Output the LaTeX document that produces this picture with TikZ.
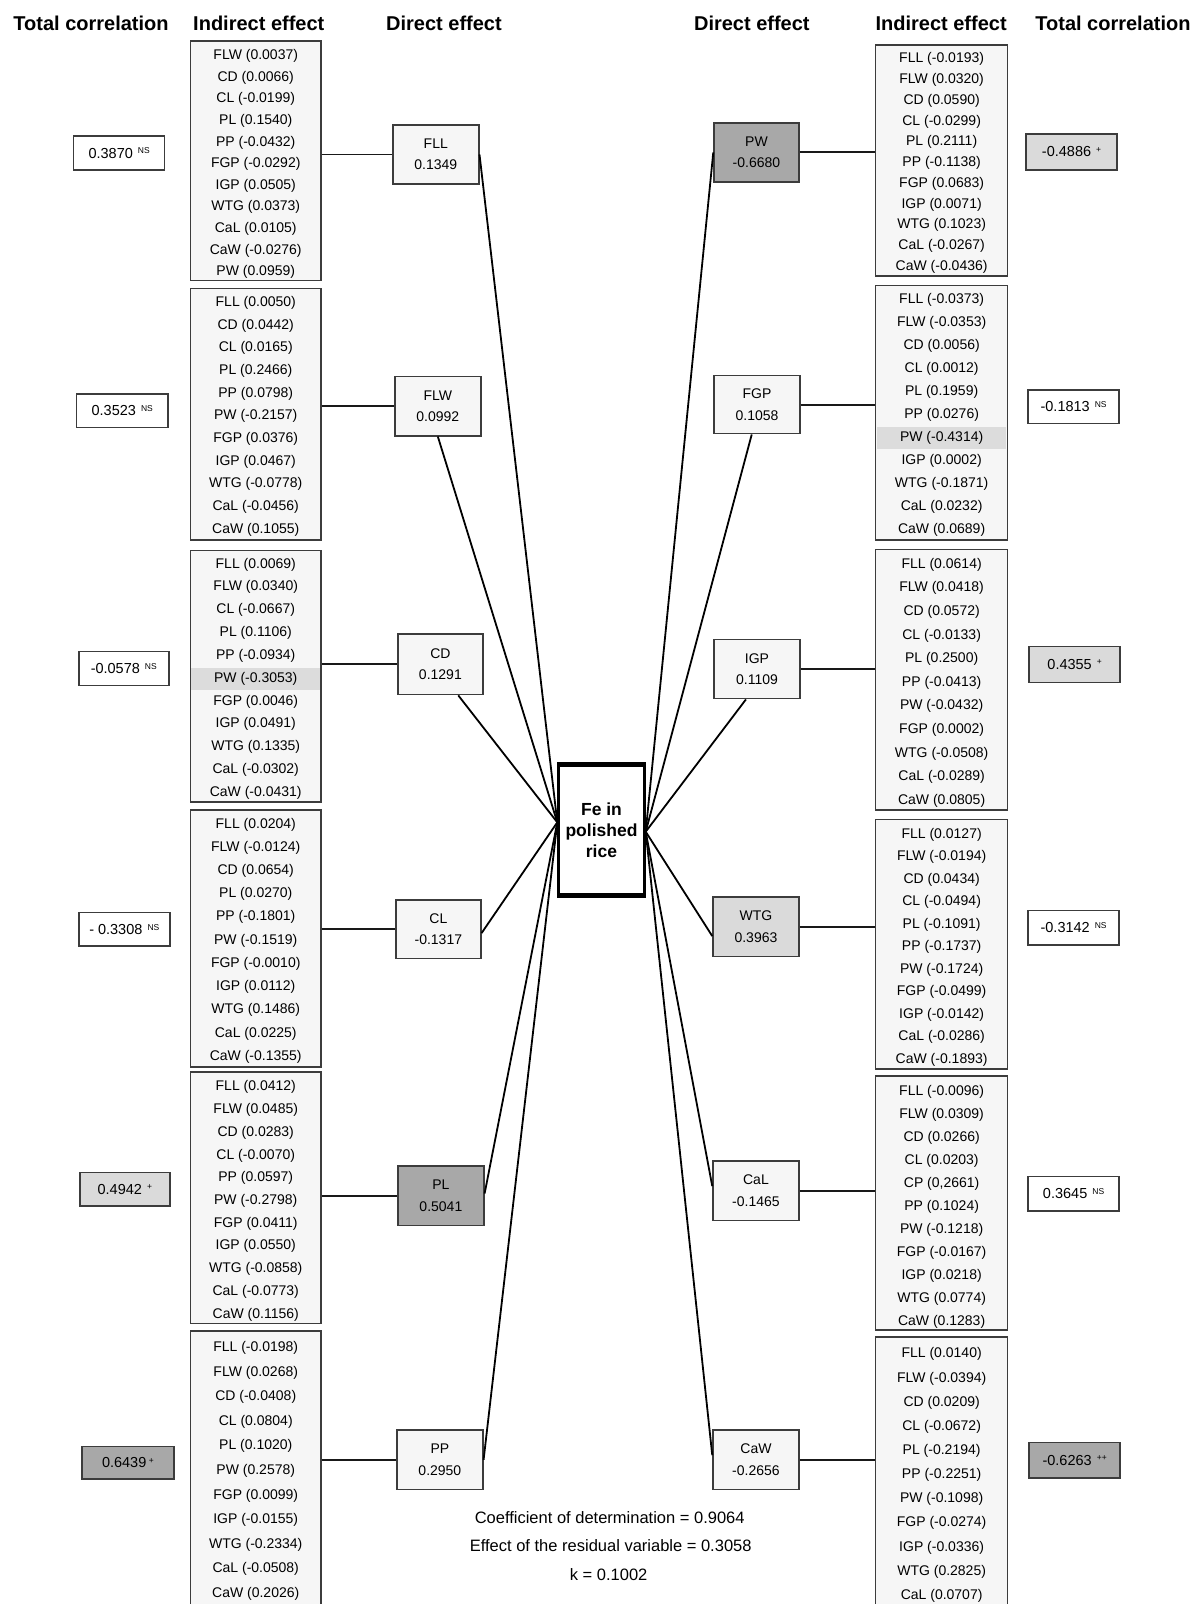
\documentclass[tikz,border=0pt]{standalone}
\usepackage{fontspec}
\setmainfont{Liberation Sans}
\usetikzlibrary{calc}
\definecolor{bord}{HTML}{3C3C3C}
\definecolor{boxfill}{HTML}{F6F6F6}
\definecolor{lightg}{HTML}{DADADA}
\definecolor{darkg}{HTML}{A8A8A8}
\definecolor{hlg}{HTML}{DCDCDC}
\newcommand\supm[1]{\hspace{0.35em}\raisebox{4.5pt}{\fontsize{8.5}{9}\selectfont #1}}
\newcommand\bx[7]{%
 \pgfmathsetmacro\bw{(#5-#3)*1.0231}%
 \pgfmathsetmacro\bh{(#6-#4)*1.0231}%
 \node[#1, minimum width=\bw pt, minimum height=\bh pt] (#2) at ({(#3+#5)/2},{(#4+#6)/2}) {#7};%
}
\newcommand\ib[9]{%
 \bx{box}{#1}{#2}{#3}{#4}{#5}{}%
 \pgfmathsetmacro\hw{(#4-#2)*1.0231-2.4}%
 \foreach \t [count=\i from 0] in {#9}{%
   \ifnum\i=#8\relax\def\rowst{hlrow}\else\def\rowst{}\fi
   \node[itext,\rowst] (#1-\i) at ({(#2+#4)/2},{#6+\i*(#7-#6)/10}) {\t};
 }%
}
\begin{document}
\begin{tikzpicture}[x=1.0231pt, y=-1.0231pt,
  box/.style={draw=bord, line width=1.5pt, fill=boxfill, inner sep=0pt},
  itext/.style={font=\fontsize{14}{16}\selectfont, inner sep=0pt, text height=10pt, text depth=3pt},
  hlrow/.style={fill=hlg, minimum width=\hw pt, minimum height=22pt},
  dbox/.style={box, align=center, font=\fontsize{14}{21.5}\selectfont},
  tbox/.style={box, fill=white, font=\fontsize{14.5}{16}\selectfont},
  hdr/.style={font=\fontsize{20}{24}\selectfont\bfseries, inner sep=0pt},
  febox/.style={draw=black, line width=2.5pt, fill=white, align=center, inner sep=0pt, font=\fontsize{17.5}{21}\selectfont\bfseries},
  note/.style={font=\fontsize{16.5}{20}\selectfont, inner sep=0pt},
  conn/.style={line width=1.8pt, black},
  hconn/.style={line width=1.9pt, black!90}]
\useasboundingbox (0,0) rectangle (1168,1568);
\clip (0,0) rectangle (1168,1568);
\fill[white] (0,0) rectangle (1168,1568);

% headers
\node[hdr] (h1) at (89,23) {Total correlation};
\node[hdr] (h2) at (253,23) {Indirect effect};
\node[hdr] (h3) at (434,23) {Direct effect};
\node[hdr] (h4) at (735,23) {Direct effect};
\node[hdr] (h5) at (920,23) {Indirect effect};
\node[hdr] (h6) at (1088,23) {Total correlation};

% left indirect boxes
\ib{L1}{186}{40}{314}{274}{55}{266}{-1}{FLW (0.0037),CD (0.0066),CL (-0.0199),PL (0.1540),PP (-0.0432),FGP (-0.0292),IGP (0.0505),WTG (0.0373),CaL (0.0105),CaW (-0.0276),PW (0.0959)}
\ib{L2}{186}{282}{314}{528}{296}{518}{-1}{FLL (0.0050),CD (0.0442),CL (0.0165),PL (0.2466),PP (0.0798),PW (-0.2157),FGP (0.0376),IGP (0.0467),WTG (-0.0778),CaL (-0.0456),CaW (0.1055)}
\ib{L3}{186}{538}{314}{784}{552}{775}{5}{FLL (0.0069),FLW (0.0340),CL (-0.0667),PL (0.1106),PP (-0.0934),PW (-0.3053),FGP (0.0046),IGP (0.0491),WTG (0.1335),CaL (-0.0302),CaW (-0.0431)}
\ib{L4}{186}{792}{314}{1043}{806}{1033}{-1}{FLL (0.0204),FLW (-0.0124),CD (0.0654),PL (0.0270),PP (-0.1801),PW (-0.1519),FGP (-0.0010),IGP (0.0112),WTG (0.1486),CaL (0.0225),CaW (-0.1355)}
\ib{L5}{186}{1048}{314}{1294}{1063}{1285}{-1}{FLL (0.0412),FLW (0.0485),CD (0.0283),CL (-0.0070),PP (0.0597),PW (-0.2798),FGP (0.0411),IGP (0.0550),WTG (-0.0858),CaL (-0.0773),CaW (0.1156)}
\ib{L6}{186}{1301}{314}{1585}{1318}{1558}{-1}{FLL (-0.0198),FLW (0.0268),CD (-0.0408),CL (0.0804),PL (0.1020),PW (0.2578),FGP (0.0099),IGP (-0.0155),WTG (-0.2334),CaL (-0.0508),CaW (0.2026)}

% right indirect boxes
\ib{R1}{856}{44}{985}{270}{58}{261}{-1}{FLL (-0.0193),FLW (0.0320),CD (0.0590),CL (-0.0299),PL (0.2111),PP (-0.1138),FGP (0.0683),IGP (0.0071),WTG (0.1023),CaL (-0.0267),CaW (-0.0436)}
\ib{R2}{856}{279}{985}{528}{293}{518}{6}{FLL (-0.0373),FLW (-0.0353),CD (0.0056),CL (0.0012),PL (0.1959),PP (0.0276),PW (-0.4314),IGP (0.0002),WTG (-0.1871),CaL (0.0232),CaW (0.0689)}
\ib{R3}{856}{537}{985}{792}{552}{783}{-1}{FLL (0.0614),FLW (0.0418),CD (0.0572),CL (-0.0133),PL (0.2500),PP (-0.0413),PW (-0.0432),FGP (0.0002),WTG (-0.0508),CaL (-0.0289),CaW (0.0805)}
\ib{R4}{856}{801}{985}{1045}{816}{1036}{-1}{FLL (0.0127),FLW (-0.0194),CD (0.0434),CL (-0.0494),PL (-0.1091),PP (-0.1737),PW (-0.1724),FGP (-0.0499),IGP (-0.0142),CaL (-0.0286),CaW (-0.1893)}
\ib{R5}{856}{1052}{985}{1300}{1067}{1292}{-1}{FLL (-0.0096),FLW (0.0309),CD (0.0266),CL (0.0203),{CP (0,2661)},PP (0.1024),PW (-0.1218),FGP (-0.0167),IGP (0.0218),WTG (0.0774),CaW (0.1283)}
\ib{R6}{856}{1307}{985}{1590}{1324}{1560}{-1}{FLL (0.0140),FLW (-0.0394),CD (0.0209),CL (-0.0672),PL (-0.2194),PP (-0.2251),PW (-0.1098),FGP (-0.0274),IGP (-0.0336),WTG (0.2825),CaL (0.0707)}

% direct effect boxes
\bx{dbox}{FLL}{384}{122}{468}{180}{FLL\\0.1349}
\bx{dbox}{FLW}{386}{368}{470}{426}{FLW\\0.0992}
\bx{dbox}{CD}{389}{620}{472}{679}{CD\\0.1291}
\bx{dbox}{CL}{387}{880}{470}{937}{CL\\-0.1317}
\bx{dbox,fill=darkg}{PL}{389}{1140}{473}{1198}{PL\\0.5041}
\bx{dbox}{PP}{388}{1398}{472}{1456}{PP\\0.2950}
\bx{dbox,fill=darkg}{PW}{698}{120}{781}{178}{PW\\-0.6680}
\bx{dbox}{FGP}{698}{367}{782}{424}{FGP\\0.1058}
\bx{dbox}{IGP}{698}{625}{782}{683}{IGP\\0.1109}
\bx{dbox,fill=lightg}{WTG}{697}{877}{781}{935}{WTG\\0.3963}
\bx{dbox}{CaL}{697}{1135}{781}{1193}{CaL\\-0.1465}
\bx{dbox}{CaW}{697}{1398}{781}{1456}{CaW\\-0.2656}

% total correlation boxes
\bx{tbox}{T1}{72}{133}{161}{166}{0.3870\supm{NS}}
\bx{tbox}{T2}{75}{385}{164}{418}{0.3523\supm{NS}}
\bx{tbox}{T3}{77}{637}{165}{670}{-0.0578\supm{NS}}
\bx{tbox}{T4}{77}{892}{166}{925}{- 0.3308\supm{NS}}
\bx{tbox,fill=lightg}{T5}{78}{1146}{166}{1179}{0.4942\supm{+}}
\bx{tbox,fill=darkg}{T6}{80}{1414}{170}{1446}{0.6439\,\raisebox{4.5pt}{\fontsize{8.5}{9}\selectfont +}}
\bx{tbox,fill=lightg}{U1}{1003}{131}{1092}{166}{-0.4886\supm{+}}
\bx{tbox}{U2}{1005}{381}{1094}{414}{-0.1813\supm{NS}}
\bx{tbox,fill=lightg}{U3}{1006}{632}{1095}{667}{0.4355\supm{+}}
\bx{tbox}{U4}{1005}{890}{1094}{924}{-0.3142\supm{NS}}
\bx{tbox}{U5}{1005}{1150}{1094}{1184}{0.3645\supm{NS}}
\bx{tbox,fill=darkg}{U6}{1006}{1410}{1095}{1445}{-0.6263\supm{++}}

% central box
\bx{febox}{Fe}{546}{749}{630}{874}{Fe in\\polished\\rice}
\draw[line width=5pt] (Fe.north west) -- (Fe.north east);
\draw[line width=5pt] (Fe.south west) -- (Fe.south east);

% horizontal connectors
\draw[hconn] (L1.east |- FLL.west) -- (FLL.west);
\draw[hconn] (L2.east |- FLW.west) -- (FLW.west);
\draw[hconn] (L3.east |- CD.west) -- (CD.west);
\draw[hconn] (L4.east |- CL.west) -- (CL.west);
\draw[hconn] (L5.east |- PL.west) -- (PL.west);
\draw[hconn] (L6.east |- PP.west) -- (PP.west);
\draw[hconn] (PW.east) -- (PW.east -| R1.west);
\draw[hconn] (FGP.east) -- (FGP.east -| R2.west);
\draw[hconn] (IGP.east) -- (IGP.east -| R3.west);
\draw[hconn] (WTG.east) -- (WTG.east -| R4.west);
\draw[hconn] (CaL.east) -- (CaL.east -| R5.west);
\draw[hconn] (CaW.east) -- (CaW.east -| R6.west);

% connectors to central box
\draw[conn] (FLL.east) -- (Fe.170);
\draw[conn] (FLW.south) -- (Fe.170);
\draw[conn] (CD.-60) -- (Fe.170);
\draw[conn] (CL.-5) -- (Fe.170);
\draw[conn] (PL.3) -- (Fe.170);
\draw[conn] (PP.east) -- (Fe.170);
\draw[conn] (PW.west) -- (Fe.-2);
\draw[conn] (FGP.-100) -- (Fe.-2);
\draw[conn] (IGP.-110) -- (Fe.-2);
\draw[conn] (WTG.192) -- (Fe.-2);
\draw[conn] (CaL.174) -- (Fe.-2);
\draw[conn] (CaW.174) -- (Fe.-2);

% notes
\node[note] (n1) at (596,1484) {Coefficient of determination = 0.9064};
\node[note] (n2) at (597,1511) {Effect of the residual variable = 0.3058};
\node[note] (n3) at (595,1539) {k = 0.1002};
\end{tikzpicture}
\end{document}
